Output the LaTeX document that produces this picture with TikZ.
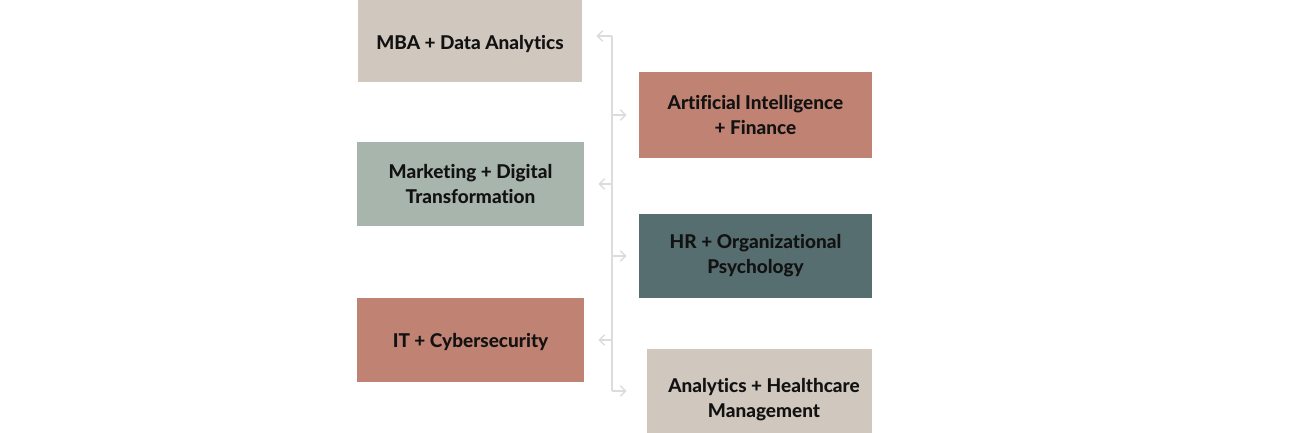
\documentclass[tikz,border=0pt]{standalone}
\usepackage{fontspec}
\setmainfont{Lato}[Ligatures=NoCommon, BoldFont={Lato Heavy}]
\usetikzlibrary{arrows.meta}

\definecolor{sand}{HTML}{D0C8BE}
\definecolor{clay}{HTML}{C08272}
\definecolor{sage}{HTML}{A8B5AC}
\definecolor{slate}{HTML}{566E70}
\definecolor{spineg}{HTML}{DCDCDC}

\newcommand{\lowered}[2]{\raisebox{-#1}[\height][\depth]{#2}}

\tikzset{
  track/.style={fill=#1, minimum height=84*0.02cm, inner sep=0pt, align=center,
    font=\fontsize{10.8}{14.2}\selectfont\bfseries, text=black!93},
  label text/.style={align=center, inner sep=0pt,
    font=\fontsize{10.8}{14.2}\selectfont\bfseries, text=black!93},
  link/.style={draw=spineg, line width=0.8pt, -{Straight Barb[length=3pt,width=6pt]}, shorten >=#1*0.02cm},
  link/.default=14
}

\begin{document}
\begin{tikzpicture}[x=0.02cm, y=-0.02cm]
		\useasboundingbox (0,0) rectangle (1296,433);
		
		% Columna izq
		\node[track=sand, minimum width=224*0.02cm, minimum height=82*0.02cm] (mba) at (470,41) {\lowered{1.8pt}{MBA + Data Analytics}};
		\node[track=sage, minimum width=227*0.02cm] (mkt) at (470.5,184) {Marketing + Digital\\Transformation};
		\node[track=clay, minimum width=227*0.02cm] (it) at (470.5,340) {\lowered{1.1pt}{IT + Cybersecurity}};
		
		% Columna der
		\node[track=clay, minimum width=233*0.02cm, minimum height=86*0.02cm] (ai) at (755.5,115) {Artificial Intelligence\\+ Finance};
		\node[track=slate, minimum width=233*0.02cm] (hr) at (755.5,256) {HR + Organizational\\Psychology};
		\node[track=sand, minimum width=225*0.02cm] (hc) at (759.5,391) {};
		\node[label text] (hc-text) at (764,400) {Analytics + Healthcare\\Management};
		
		% Eje central
		\coordinate (spine) at (612,36);
		\draw[spineg, line width=0.8pt] (spine) -- (spine |- hc.center);
		\draw[link] ([yshift=5*0.02cm]mba.east -| spine) -- ([yshift=5*0.02cm]mba.east);
		\foreach \n in {mkt, it}{
			\draw[link] (\n.east -| spine) -- (\n.east);}
		\foreach \n/\s in {ai/12, hr/12, hc/20}{
			\draw[link=\s] (\n.west -| spine) -- (\n.west);}
	\end{tikzpicture}
\end{document}
